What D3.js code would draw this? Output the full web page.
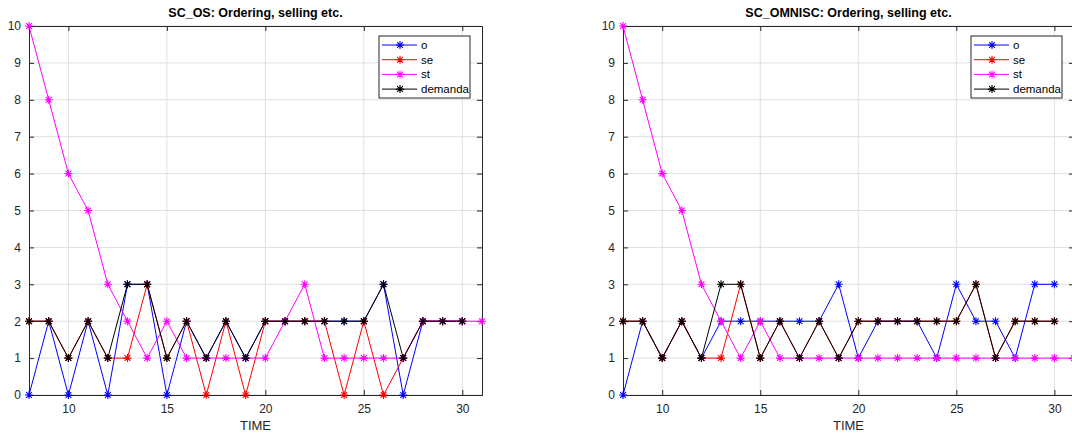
<!DOCTYPE html>
<html><head><meta charset="utf-8">
<script src="https://cdn.jsdelivr.net/npm/d3@7"></script>
<style>body{margin:0;background:#fff}svg{display:block}text{font-family:"Liberation Sans",Arial,sans-serif}</style>
</head><body><svg id="c" width="1072" height="435"></svg>
<script>
const xTicks = [10, 15, 20, 25, 30];
const yTicks = [0,1,2,3,4,5,6,7,8,9,10];
const seriesNames = ["o", "se", "st", "demanda"];
const seriesColors = ["#0000ff", "#ff0000", "#ff00ff", "#000000"];

// Left panel: SC_OS
const osTime = [8,9,10,11,12,13,14,15,16,17,18,19,20,21,22,23,24,25,26,27,28,29,30];
const osO       = [0,2,0,2,0,3,3,0,2,1,2,1,2,2,2,2,2,2,3,0,2,2,2];
const osSe      = [2,2,1,2,1,1,3,1,2,0,2,0,2,2,2,2,0,2,0,1,2,2,2];
const osStTime  = [8,9,10,11,12,13,14,15,16,17,18,19,20,21,22,23,24,25,26,27,28,29,30,31];
const osSt      = [10,8,6,5,3,2,1,2,1,1,1,1,1,2,3,1,1,1,1,1,2,2,2,2];
const osDemanda = [2,2,1,2,1,3,3,1,2,1,2,1,2,2,2,2,2,2,3,1,2,2,2];

// Right panel: SC_OMNISC
const omTime = [8,9,10,11,12,13,14,15,16,17,18,19,20,21,22,23,24,25,26,27,28,29,30];
const omO       = [0,2,1,2,1,2,2,2,2,2,2,3,1,2,2,2,1,3,2,2,1,3,3];
const omSe      = [2,2,1,2,1,1,3,1,2,1,2,1,2,2,2,2,2,2,3,1,2,2,2];
const omStTime  = [8,9,10,11,12,13,14,15,16,17,18,19,20,21,22,23,24,25,26,27,28,29,30,31];
const omSt      = [10,8,6,5,3,2,1,2,1,1,1,1,1,1,1,1,1,1,1,1,1,1,1,1];
const omDemanda = [2,2,1,2,1,3,3,1,2,1,2,1,2,2,2,2,2,2,3,1,2,2,2];

const svg = d3.select("#c");

function zip(xs, ys){ return xs.map((x,i)=>({x, y: ys[i]})); }

function panel(cfg){
  const {x0, x1, y0, y1, title, series} = cfg;
  const g = svg.append("g");
  const x = d3.scaleLinear().domain([8,31]).range([x0,x1]);
  const y = d3.scaleLinear().domain([0,10]).range([y1,y0]);
  const axCol = "#262626";
  // grid
  g.append("g").selectAll("line.gx").data(xTicks).join("line")
    .attr("x1", d=>x(d)).attr("x2", d=>x(d)).attr("y1", y0).attr("y2", y1)
    .attr("stroke", "#dfdfdf").attr("stroke-width", 1);
  g.append("g").selectAll("line.gy").data(yTicks).join("line")
    .attr("y1", d=>y(d)).attr("y2", d=>y(d)).attr("x1", x0).attr("x2", x1)
    .attr("stroke", "#dfdfdf").attr("stroke-width", 1);
  // axes
  const xa = g.append("g").attr("transform", `translate(0,${y1})`)
    .call(d3.axisBottom(x).tickValues(xTicks).tickSize(-5).tickPadding(9).tickFormat(d3.format("d")));
  const ya = g.append("g").attr("transform", `translate(${x0},0)`)
    .call(d3.axisLeft(y).tickValues(yTicks).tickSize(-5).tickPadding(8).tickFormat(d3.format("d")));
  const xt = g.append("g").attr("transform", `translate(0,${y0})`)
    .call(d3.axisTop(x).tickValues(xTicks).tickSize(-5).tickFormat(""));
  const yr = g.append("g").attr("transform", `translate(${x1},0)`)
    .call(d3.axisRight(y).tickValues(yTicks).tickSize(-5).tickFormat(""));
  [xa, ya, xt, yr].forEach(a=>{
    a.select(".domain").attr("stroke", axCol);
    a.selectAll(".tick line").attr("stroke", axCol);
    a.selectAll(".tick text").attr("fill", axCol).attr("font-size", 12)
      .attr("font-family", '"Liberation Sans",Arial,sans-serif');
  });
  // title & label
  g.append("text").attr("x", (x0+x1)/2).attr("y", 17).attr("text-anchor", "middle")
    .attr("font-weight", "bold").attr("font-size", 12.5).attr("fill", "#000").text(title);
  g.append("text").attr("x", (x0+x1)/2).attr("y", 430).attr("text-anchor", "middle")
    .attr("font-size", 13).attr("fill", axCol).text("TIME");
  // clip
  const cid = "clip" + x0;
  svg.append("clipPath").attr("id", cid).append("rect")
    .attr("x", x0-6).attr("y", y0-6).attr("width", x1-x0+12).attr("height", y1-y0+12);
  const plot = g.append("g").attr("clip-path", `url(#${cid})`);
  const line = d3.line().x(d=>x(d.x)).y(d=>y(d.y));
  series.forEach((s,i)=>{
    const col = seriesColors[i];
    const pts = zip(s.t, s.v);
    plot.append("path").datum(pts).attr("d", line).attr("fill", "none")
      .attr("stroke", col).attr("stroke-width", 1);
    plot.append("g").selectAll("path").data(pts).join("path")
      .attr("transform", d=>`translate(${x(d.x)},${y(d.y)})`)
      .attr("d", star(4)).attr("stroke", col).attr("stroke-width", 1.1).attr("fill", "none");
  });
  // legend
  const lx = x1 - 103, ly = y0 + 10, lw = 91, lh = 62;
  const lg = g.append("g");
  lg.append("rect").attr("x", lx).attr("y", ly).attr("width", lw).attr("height", lh)
    .attr("fill", "#fff").attr("stroke", "#262626").attr("stroke-width", 1);
  seriesNames.forEach((n,i)=>{
    const yy = ly + 9 + i*14.7;
    lg.append("line").attr("x1", lx+3).attr("x2", lx+38).attr("y1", yy).attr("y2", yy)
      .attr("stroke", seriesColors[i]).attr("stroke-width", 1);
    lg.append("path").attr("transform", `translate(${lx+21},${yy})`).attr("d", star(4))
      .attr("stroke", seriesColors[i]).attr("stroke-width", 1.1).attr("fill", "none");
    lg.append("text").attr("x", lx+42).attr("y", yy+4).attr("font-size", 11.5)
      .attr("fill", "#000").text(n);
  });
}

function star(r){
  const d = r*0.72;
  return `M${-r},0L${r},0M0,${-r}L0,${r}M${-d},${-d}L${d},${d}M${-d},${d}L${d},${-d}`;
}

panel({x0: 29, x1: 482, y0: 26, y1: 395, title: "SC_OS: Ordering, selling etc.",
  series: [{t: osTime, v: osO}, {t: osTime, v: osSe}, {t: osStTime, v: osSt}, {t: osTime, v: osDemanda}]});
panel({x0: 623, x1: 1074, y0: 26, y1: 395, title: "SC_OMNISC: Ordering, selling etc.",
  series: [{t: omTime, v: omO}, {t: omTime, v: omSe}, {t: omStTime, v: omSt}, {t: omTime, v: omDemanda}]});
</script></body></html>
